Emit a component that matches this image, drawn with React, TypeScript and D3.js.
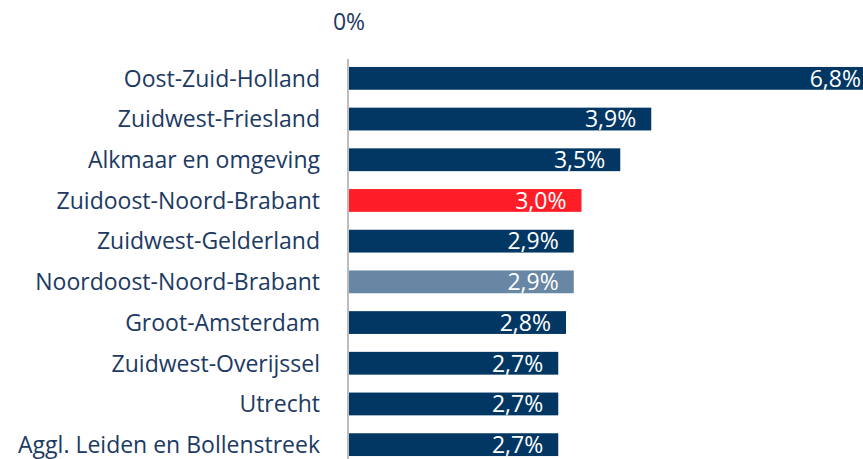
import React from 'react';
import * as d3 from 'd3';

const regions = [
  'Oost-Zuid-Holland',
  'Zuidwest-Friesland',
  'Alkmaar en omgeving',
  'Zuidoost-Noord-Brabant',
  'Zuidwest-Gelderland',
  'Noordoost-Noord-Brabant',
  'Groot-Amsterdam',
  'Zuidwest-Overijssel',
  'Utrecht',
  'Aggl. Leiden en Bollenstreek',
];
const values = [6.8, 3.9, 3.5, 3.0, 2.9, 2.9, 2.8, 2.7, 2.7, 2.7];
const highlight = ['normal', 'normal', 'normal', 'red', 'normal', 'grey', 'normal', 'normal', 'normal', 'normal'];

const colors: Record<string, string> = {
  normal: '#023764',
  red: '#ff1e27',
  grey: '#6787a5',
};

const W = 863;
const H = 459;
const FONT = "'Open Sans', 'Noto Sans', sans-serif";
const TEXT = '#1c3a62';

const App: React.FC = () => {
  const x0 = 349;
  // 1% ≈ 77.5px; the largest bar runs past the right edge, as in the original
  const x = d3.scaleLinear().domain([0, 1]).range([x0, x0 + 77.5]);
  const y = d3.scaleBand<string>()
    .domain(regions)
    .range([58, 465])
    .paddingInner(0.44)
    .paddingOuter(0.22);

  const fmt = (v: number) => v.toFixed(1).replace('.', ',') + '%';

  return (
    <svg width={W} height={H} style={{ position: 'absolute', left: 0, top: 0, background: '#fff' }}>
      {/* top axis tick label */}
      <text x={x(0)} y={30} textAnchor="middle" fill={TEXT} fontFamily={FONT} fontSize={23}>
        0%
      </text>

      {regions.map((r, i) => {
        const cy = (y(r) ?? 0) + y.bandwidth() / 2;
        return (
          <g key={r}>
            <rect
              x={x(0)}
              y={y(r)}
              width={x(values[i]) - x(0)}
              height={y.bandwidth()}
              fill={colors[highlight[i]]}
            />
            <text
              x={x(values[i]) - 15}
              y={cy}
              dy="0.36em"
              textAnchor="end"
              fill="#fff"
              fontFamily={FONT}
              fontSize={23}
            >
              {fmt(values[i])}
            </text>
            <text
              x={320}
              y={cy}
              dy="0.36em"
              textAnchor="end"
              fill={TEXT}
              fontFamily={FONT}
              fontSize={23}
            >
              {r}
            </text>
          </g>
        );
      })}

      {/* category axis line */}
      <line x1={x(0) - 1} x2={x(0) - 1} y1={59} y2={H} stroke="#a6a6a6" strokeWidth={1.5} />
    </svg>
  );
};

export default App;
